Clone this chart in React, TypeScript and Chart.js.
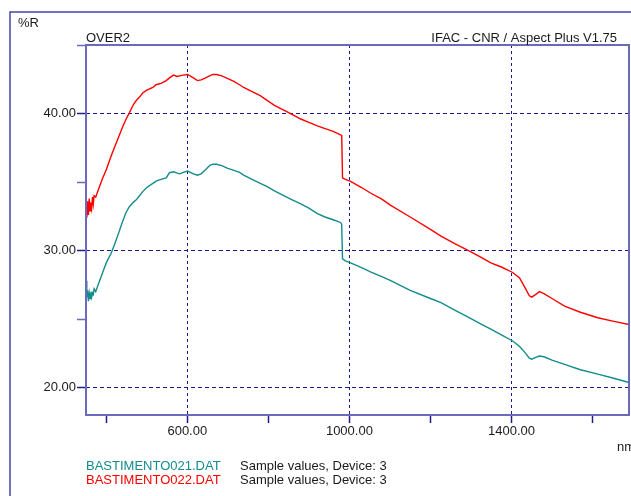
import React, { useEffect, useRef } from "react";
import { Chart, registerables } from "chart.js";

Chart.register(...registerables);

const wavelengths = [
  350, 352, 354, 356, 358, 360, 362, 364, 366, 368, 370, 374, 380, 390, 400, 412, 420, 432, 440, 449,
  457, 466, 474, 482, 490, 500, 515, 523, 535, 548, 556, 566, 575, 581, 590, 601, 615, 625, 634, 645,
  655, 663, 672, 685, 700, 715, 729, 739, 760, 780, 795, 815, 838, 855, 880, 900, 921, 940, 960, 978,
  981, 983, 990, 1003, 1030, 1052, 1080, 1102, 1150, 1200, 1226, 1260, 1300, 1325, 1349, 1375, 1403,
  1420, 1435, 1444, 1450, 1460, 1469, 1480, 1500, 1531, 1570, 1613, 1650, 1690,
];

const bastimento022 = [
  33.2, 32.4, 33.6, 32.6, 33.8, 32.9, 33.5, 33.1, 33.9, 33.4, 34.0, 33.9, 34.4, 35.2, 35.9, 36.9, 37.5, 38.4, 39.0, 39.6,
  40.05, 40.6, 40.95, 41.2, 41.5, 41.7, 41.9, 42.1, 42.2, 42.4, 42.6, 42.8, 42.7, 42.75, 42.8, 42.85, 42.6, 42.4, 42.45, 42.6,
  42.75, 42.85, 42.85, 42.75, 42.55, 42.35, 42.1, 41.9, 41.6, 41.3, 41.0, 40.6, 40.25, 40.0, 39.6, 39.35, 39.1, 38.9, 38.7, 38.45,
  38.4, 35.3, 35.2, 35.05, 34.6, 34.2, 33.75, 33.3, 32.45, 31.55, 31.06, 30.5, 29.9, 29.5, 29.1, 28.8, 28.4,
  28.0, 27.2, 26.7, 26.6, 26.8, 27.0, 26.85, 26.5, 25.95, 25.5, 25.1, 24.85, 24.6,
];

const bastimento021 = [
  27.8, 26.6, 27.1, 26.3, 26.9, 26.5, 27.0, 26.6, 26.9, 26.8, 27.2, 27.0, 27.5, 28.3, 29.1, 29.8, 30.4, 31.4, 32.1, 32.8,
  33.2, 33.5, 33.7, 34.0, 34.3, 34.6, 34.9, 35.07, 35.2, 35.3, 35.68, 35.75, 35.65, 35.6, 35.7, 35.8, 35.6, 35.5, 35.6, 35.9,
  36.2, 36.3, 36.3, 36.2, 36.0, 35.85, 35.7, 35.5, 35.2, 34.9, 34.7, 34.35, 34.0, 33.75, 33.4, 33.1, 32.7, 32.45, 32.25, 32.05,
  31.9, 29.4, 29.25, 29.1, 28.75, 28.45, 28.1, 27.8, 27.1, 26.5, 26.2, 25.66, 25.03, 24.64, 24.26, 23.85, 23.4,
  23.0, 22.5, 22.15, 22.07, 22.2, 22.3, 22.25, 22.0, 21.7, 21.3, 20.98, 20.7, 20.37,
];

const xTicks = [400, 600, 800, 1000, 1200, 1400, 1600];
const xMajor = [600, 1000, 1400];
const yTicks = [20, 25, 30, 35, 40, 45];
const yMajor = [20, 30, 40];

const seriesNames = ["BASTIMENTO021.DAT", "BASTIMENTO022.DAT"];
const seriesInfo = ["Sample values, Device: 3", "Sample values, Device: 3"];
const seriesColors = ["#128c8c", "#ff0000"];

const FONT = "13px 'Liberation Sans', Arial, sans-serif";

const decorPlugin = {
  id: "decor",
  beforeDraw(chart: any) {
    const ctx = chart.ctx;
    ctx.save();
    ctx.strokeStyle = "#4646a8";
    ctx.lineWidth = 1.5;
    ctx.beginPath();
    ctx.moveTo(10, chart.height);
    ctx.lineTo(10, 12);
    ctx.lineTo(chart.width, 12);
    ctx.stroke();
    ctx.restore();
  },
  afterDraw(chart: any) {
    const ctx = chart.ctx;
    const a = chart.chartArea;
    ctx.save();
    ctx.strokeStyle = "#6a6ab8";
    ctx.lineWidth = 2;
    ctx.strokeRect(a.left, a.top, a.right - a.left, a.bottom - a.top);
    ctx.font = FONT;
    ctx.fillStyle = "#1a1a1a";
    ctx.textBaseline = "alphabetic";
    ctx.textAlign = "left";
    ctx.fillText("%R", 18, 27);
    ctx.fillText("OVER2", a.left, 42);
    ctx.textAlign = "right";
    ctx.fillText("IFAC - CNR / Aspect Plus V1.75", 617, 42);
    ctx.textAlign = "left";
    ctx.fillText("nm", 617, 451);
    for (let i = 0; i < seriesNames.length; i++) {
      const y = 470 + i * 14;
      ctx.fillStyle = seriesColors[i];
      ctx.fillText(seriesNames[i], a.left, y);
      ctx.fillStyle = "#1a1a1a";
      ctx.fillText(seriesInfo[i], 240, y);
    }
    ctx.restore();
  },
};

export default function App() {
  const ref = useRef<HTMLCanvasElement | null>(null);
  useEffect(() => {
    if (!ref.current) return;
    const mk = (vals: number[]) => wavelengths.map((x, i) => ({ x, y: vals[i] }));
    const chart = new Chart(ref.current, {
      type: "line",
      data: {
        datasets: [
          {
            label: seriesNames[0],
            data: mk(bastimento021),
            borderColor: seriesColors[0],
            borderWidth: 1.4,
            pointRadius: 0,
            tension: 0,
          },
          {
            label: seriesNames[1],
            data: mk(bastimento022),
            borderColor: seriesColors[1],
            borderWidth: 1.4,
            pointRadius: 0,
            tension: 0,
          },
        ],
      },
      options: {
        responsive: false,
        animation: false,
        devicePixelRatio: 1,
        layout: { padding: { top: 45, right: 2, left: 0, bottom: 0 } },
        plugins: { legend: { display: false }, title: { display: false }, tooltip: { enabled: false } },
        scales: {
          x: {
            type: "linear",
            min: 350,
            max: 1690,
            afterBuildTicks: (s: any) => {
              s.ticks = xTicks.map((v) => ({ value: v }));
            },
            afterFit: (s: any) => {
              s.height = 81;
            },
            ticks: {
              autoSkip: false,
              maxRotation: 0,
              padding: 1,
              color: "#1a1a1a",
              font: { family: "'Liberation Sans', Arial, sans-serif", size: 13 },
              callback: (v: any) => (xMajor.includes(Number(v)) ? Number(v).toFixed(2) : ""),
            },
            grid: {
              color: (c: any) => (c.tick && xMajor.includes(c.tick.value) ? "#1a1a90" : "rgba(0,0,0,0)"),
              tickColor: "#1e1e8c",
              tickLength: 8,
              tickWidth: 1.5,
              tickBorderDash: [],
              lineWidth: 1,
            },
            border: { display: false, dash: [3, 3] },
          },
          y: {
            type: "linear",
            min: 18,
            max: 45,
            afterBuildTicks: (s: any) => {
              s.ticks = yTicks.map((v) => ({ value: v }));
            },
            afterFit: (s: any) => {
              s.width = 86;
            },
            ticks: {
              autoSkip: false,
              padding: 1,
              color: "#1a1a1a",
              font: { family: "'Liberation Sans', Arial, sans-serif", size: 13 },
              callback: (v: any) => (yMajor.includes(Number(v)) ? Number(v).toFixed(2) : ""),
            },
            grid: {
              color: (c: any) => (c.tick && yMajor.includes(c.tick.value) ? "#1a1a90" : "rgba(0,0,0,0)"),
              tickColor: (c: any) => (c.tick && yMajor.includes(c.tick.value) ? "#1e1e8c" : "#6a6ab8"),
              tickLength: 9,
              tickWidth: 1.5,
              tickBorderDash: [],
              lineWidth: 1,
            },
            border: { display: false, dash: [4, 3] },
          },
        },
      } as any,
      plugins: [decorPlugin],
    });
    return () => chart.destroy();
  }, []);
  return (
    <div style={{ position: "fixed", left: 0, top: 0, width: 631, height: 496, background: "#fff" }}>
      <canvas ref={ref} width={631} height={496} style={{ display: "block" }} />
    </div>
  );
}
